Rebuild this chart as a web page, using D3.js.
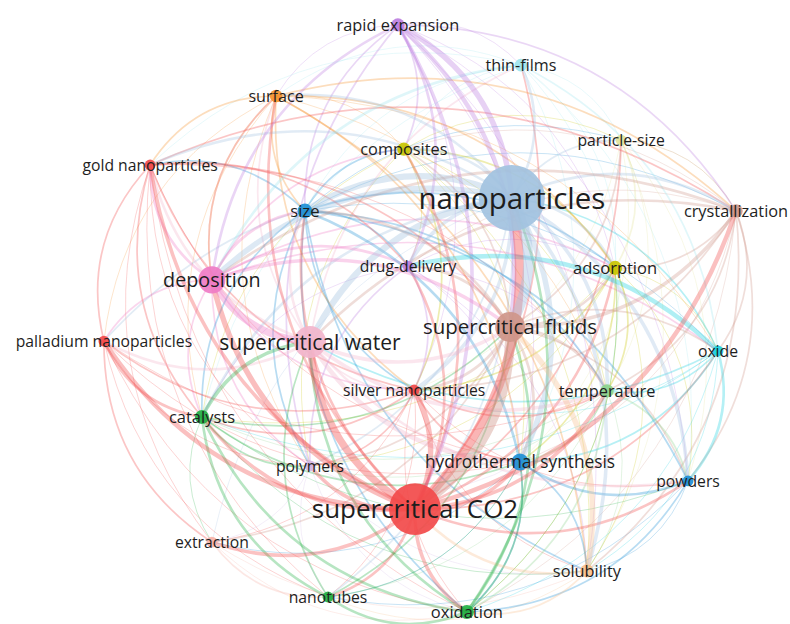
<!DOCTYPE html>
<html>
<head>
<meta charset="utf-8">
<script src="https://cdn.jsdelivr.net/npm/d3@7"></script>
<style>
  html, body { margin: 0; padding: 0; background: #fff; }
  svg { display: block; }
  .label { font-family: "Open Sans", "Noto Sans", sans-serif; fill: #1e1e1e; }
</style>
</head>
<body>
<svg id="map" width="790" height="624"></svg>
<script>
// Keyword co-occurrence map (cluster layout in map units, -1..1)
const keywords = ["nanoparticles", "supercritical CO2", "supercritical water", "supercritical fluids",
  "deposition", "size", "rapid expansion", "thin-films", "surface", "composites", "particle-size",
  "gold nanoparticles", "crystallization", "drug-delivery", "adsorption", "palladium nanoparticles",
  "oxide", "silver nanoparticles", "temperature", "catalysts", "polymers", "hydrothermal synthesis",
  "powders", "extraction", "solubility", "nanotubes", "oxidation"];
const ids = ["NP", "CO2", "SCW", "SCF", "DEP", "SZ", "RE", "TF", "SUR", "COM", "PS", "AU", "CRY", "DD",
  "ADS", "PD", "OX", "AG", "TMP", "CAT", "POL", "HS", "PW", "EXT", "SOL", "NT", "OXI"];
const mapX = [0.373, 0.05, -0.30, 0.367, -0.627, -0.317, -0.007, 0.403, -0.413, 0.013, 0.737, -0.833,
  1.12, 0.027, 0.717, -0.987, 1.06, 0.047, 0.69, -0.66, -0.30, 0.40, 0.96, -0.627, 0.623, -0.24, 0.223];
const mapY = [0.44, -0.597, -0.04, 0.01, 0.167, 0.397, 1.017, 0.883, 0.78, 0.603, 0.633, 0.55,
  0.397, 0.213, 0.207, -0.037, -0.07, -0.20, -0.203, -0.29, -0.453, -0.44, -0.503, -0.707, -0.803, -0.89, -0.94];
const occurrences = [220, 136, 52, 45, 37, 11, 9, 8, 8, 9, 6, 6, 9, 6, 10, 6, 6, 6, 9, 10, 6, 15, 6, 6, 9, 6, 10];
const cluster = [12, 1, 17, 8, 9, 3, 5, 15, 7, 4, 13, 1, 8, 5, 4, 1, 6, 1, 11, 2, 14, 3, 3, 10, 16, 2, 2];
const clusterColors = {
  1: "#f24a4a", 2: "#22b043", 3: "#1e8fd5", 4: "#c9c600", 5: "#bd7fe0", 6: "#1bd0e0",
  7: "#f5922c", 8: "#cf968a", 9: "#ef7cc6", 10: "#f7b2a8", 11: "#8cd38c", 12: "#a2c2e0",
  13: "#e3e39a", 14: "#d3b9e6", 15: "#9ee4ee", 16: "#f8c08c", 17: "#f2b5cc"
};

// Co-occurrence links: [from, to, strength]
const links = [
  ["NP","SZ",7],["NP","DEP",6],["NP","SCW",7],["NP","SCF",11],["NP","HS",6],["NP","PW",4],
  ["NP","TMP",4],["NP","ADS",3],["NP","DD",4],["NP","COM",3],["NP","TF",3],["NP","PS",2],["NP","CRY",3],
  ["NP","AG",4],["NP","AU",3],["NP","PD",2],["NP","CAT",3],["NP","POL",2],["NP","SOL",4],["NP","NT",2],
  ["NP","SUR",3],["NP","EXT",1],["RE","NP",6],["OXI","NP",3],["OX","NP",2],["OX","DD",5],
  ["CO2","NP",10],["CO2","SCW",8],["CO2","DEP",6],["CO2","AG",6],["CO2","AU",4],["CO2","PD",5],
  ["CO2","CRY",5],["CO2","EXT",4],["CO2","CAT",4],["CO2","POL",4],["CO2","NT",3],["CO2","OXI",4],
  ["CO2","HS",4],["CO2","TMP",4],["CO2","ADS",3],["CO2","COM",3],["CO2","DD",3],["CO2","SZ",3],
  ["CO2","TF",2],["CO2","SUR",3],["CO2","PW",3],["CO2","OX",2],["CO2","PS",2],["SCF","CO2",11],
  ["RE","CO2",4],["SOL","CO2",3],
  ["DEP","SCW",8],["SCW","HS",5],["OX","SCW",2],["SCW","TMP",4],["CAT","SCW",4],["SCW","AU",3],
  ["SCW","PD",3],["SCW","SZ",3],["SCW","PW",3],["SCW","SCF",4],["OXI","SCW",3],["SCW","AG",2],
  ["CRY","SCW",3],["SCW","SUR",2],["SCW","TF",2],
  ["DEP","SCF",4],["TF","DEP",3],["DEP","AU",3],["DEP","SZ",3],["DEP","DD",3],["DEP","AG",2],
  ["DEP","PD",2],["DEP","CAT",2],["DEP","SUR",2],["RE","DEP",3],["DEP","COM",2],["DEP","POL",2],
  ["DEP","ADS",2],["DEP","OX",2],["CRY","DEP",3],
  ["RE","SCF",5],["SCF","DD",3],["SCF","AG",3],["SCF","ADS",3],["SCF","TMP",3],["SCF","HS",3],
  ["CRY","SCF",4],["SCF","SZ",3],["SCF","PS",2],["SCF","COM",2],["SCF","POL",2],["SCF","EXT",2],
  ["SCF","OX",2],["SCF","PW",2],["SOL","SCF",6],
  ["SZ","DD",2],["SZ","AG",2],["SZ","HS",3],["SZ","PW",2],["SZ","TMP",2],["SZ","AU",2],["SZ","CAT",2],
  ["SZ","POL",2],["SZ","ADS",2],["SZ","OXI",2],["SZ","SOL",2],["SZ","COM",2],["RE","SZ",2],
  ["SUR","SZ",2],["SZ","PS",1],["SZ","CRY",1],["TF","SZ",1],["SZ","OX",1],
  ["RE","DD",3],["RE","COM",2],["RE","TF",1],["RE","CRY",2],["RE","PW",1],["RE","SOL",1],["RE","HS",1],
  ["RE","POL",2],["RE","AG",1],["RE","SUR",1],["RE","ADS",1],
  ["TF","COM",1],["TF","OX",2],["TF","HS",1],["TF","ADS",1],["TF","TMP",1],["TF","PS",1],["TF","AU",1],
  ["TF","SUR",1],["TF","CAT",1],["TF","PW",1],
  ["SUR","AU",2],["SUR","DEP",2],["SUR","HS",2],["SUR","CAT",1],["SUR","AG",2],["SUR","ADS",2],
  ["SUR","COM",1],["SUR","CRY",2],["SUR","TMP",1],["SUR","POL",1],["SUR","SOL",2],["SUR","PD",1],
  ["SUR","OX",1],
  ["COM","ADS",2],["COM","DD",1],["COM","AG",2],["COM","TMP",1],["COM","PS",1],["COM","CAT",1],
  ["COM","HS",1],["COM","POL",1],["COM","SOL",1],
  ["PS","ADS",2],["PS","TMP",1],["PS","SOL",1],["PS","HS",1],["PS","CRY",1],["PS","PW",1],["PS","AG",1],
  ["AU","PD",2],["AU","AG",2],["AU","CAT",2],["AU","EXT",1],["AU","SCF",2],["AU","HS",1],["AU","POL",1],
  ["AU","TMP",1],["AU","CRY",2],["AU","DD",2],["AU","OXI",1],["AU","NT",1],
  ["CRY","ADS",2],["CRY","OX",2],["CRY","PW",2],["CRY","SOL",2],["CRY","TMP",2],["CRY","HS",1],
  ["CRY","AG",2],["CRY","PS",1],["CRY","DD",1],["CRY","COM",1],["CRY","OXI",1],
  ["DD","AG",2],["DD","POL",2],["DD","HS",1],["DD","ADS",1],["DD","TMP",1],["DD","CAT",1],["DD","SOL",1],
  ["ADS","TMP",2],["ADS","HS",2],["ADS","OX",1],["ADS","PW",1],["ADS","SOL",1],["ADS","AG",2],
  ["ADS","CAT",1],["ADS","OXI",1],["ADS","POL",1],
  ["PD","CAT",3],["PD","EXT",2],["PD","AG",2],["PD","HS",1],["PD","POL",1],["PD","NT",1],["PD","OXI",1],
  ["PD","TMP",1],
  ["OX","PW",3],["OX","HS",2],["OX","TMP",2],["OX","SOL",1],["OX","OXI",1],["OX","AG",1],["OX","CAT",1],
  ["AG","HS",2],["AG","CAT",2],["AG","POL",2],["AG","TMP",2],["AG","OXI",1],["AG","NT",1],["AG","EXT",1],
  ["AG","SOL",1],["AG","PW",1],
  ["TMP","HS",2],["TMP","PW",2],["TMP","SOL",1],["TMP","OXI",2],["TMP","CAT",1],["TMP","NT",1],
  ["TMP","POL",1],
  ["CAT","NT",3],["CAT","OXI",3],["CAT","POL",2],["CAT","EXT",1],["CAT","HS",2],["CAT","SCF",2],
  ["CAT","PW",1],["CAT","SOL",1],
  ["POL","HS",1],["POL","NT",1],["POL","OXI",1],["POL","EXT",1],["POL","SOL",1],
  ["HS","PW",3],["HS","SOL",2],["HS","OXI",2],["HS","NT",1],["HS","EXT",1],
  ["PW","SOL",1],["PW","OXI",2],["PW","NT",1],
  ["EXT","NT",2],["EXT","OXI",1],["EXT","SOL",1],
  ["SOL","OXI",2],["SOL","NT",1],
  ["NT","OXI",3],["NT","SCF",2],["NT","HS",1],["NT","SCW",2],
  ["OXI","SCF",3],["OXI","HS",2],["OXI","ADS",1]
];

const svg = d3.select("#map");
const x = d3.scaleLinear().domain([-1, 1]).range([100, 700]);
const y = d3.scaleLinear().domain([-1, 1]).range([630, 30]);
const radius = d3.scaleSqrt().domain([0, d3.max(occurrences)]).range([0, 33]);
const fontSize = d3.scaleLinear().domain([0, 33]).range([13, 29.5]);
const width = d3.scaleLinear().domain([1, 11]).range([0.8, 10]);
const opacity = d3.scaleLinear().domain([1, 11]).range([0.3, 0.42]);

const nodes = ids.map((id, i) => ({
  id, name: keywords[i], x: x(mapX[i]), y: y(mapY[i]),
  r: radius(occurrences[i]), color: clusterColors[cluster[i]]
}));
const byId = new Map(nodes.map(n => [n.id, n]));
const cx = x(0), cy = y(0);

// curved link: quadratic bezier bowed away from the map centre
function curve(a, b) {
  const dx = b.x - a.x, dy = b.y - a.y;
  const len = Math.hypot(dx, dy);
  let nx = -dy / len, ny = dx / len;
  const mx = (a.x + b.x) / 2, my = (a.y + b.y) / 2;
  if ((mx - cx) * nx + (my - cy) * ny < 0) { nx = -nx; ny = -ny; }
  const k = 0.27 * len;
  const p = d3.path();
  p.moveTo(a.x, a.y);
  p.quadraticCurveTo(mx + nx * k, my + ny * k, b.x, b.y);
  return p.toString();
}

const sorted = links.slice().sort((p, q) => p[2] - q[2]);
svg.append("g").attr("fill", "none")
  .selectAll("path").data(sorted).join("path")
  .attr("d", d => curve(byId.get(d[0]), byId.get(d[1])))
  .attr("stroke", d => byId.get(d[0]).color)
  .attr("stroke-width", d => width(d[2]))
  .attr("stroke-opacity", d => opacity(d[2]))
  .attr("stroke-linecap", "round");

svg.append("g").selectAll("circle").data(nodes).join("circle")
  .attr("cx", d => d.x).attr("cy", d => d.y).attr("r", d => d.r)
  .attr("fill", d => d.color).attr("fill-opacity", 0.92);

svg.append("g").selectAll("text").data(nodes).join("text")
  .attr("class", "label")
  .attr("x", d => d.x).attr("y", d => d.y).attr("dy", "0.36em")
  .attr("text-anchor", "middle")
  .attr("font-size", d => fontSize(d.r) + "px")
  .text(d => d.name);
</script>
</body>
</html>
